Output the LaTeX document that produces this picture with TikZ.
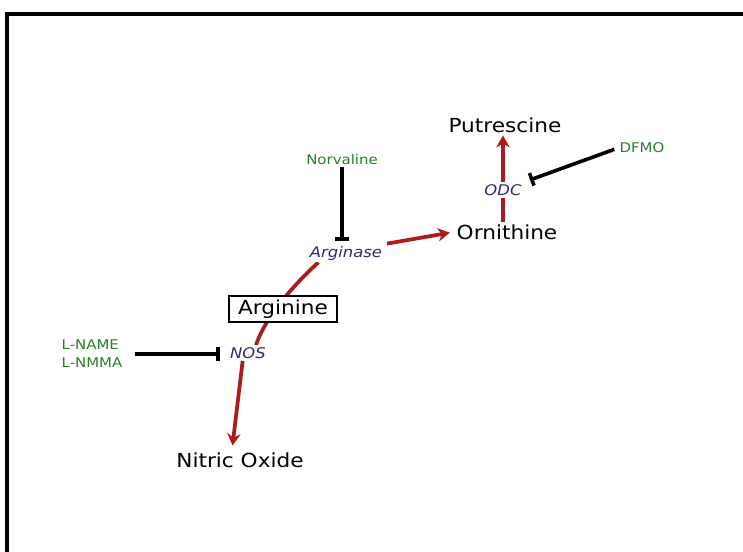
\documentclass[tikz,border=0pt]{standalone}
\usepackage{fontspec}
\setmainfont{DejaVu Sans}[FakeStretch=1.12]
\usetikzlibrary{arrows.meta,backgrounds}

\definecolor{rxnred}{RGB}{175,25,25}
\definecolor{drggreen}{RGB}{45,125,45}
\definecolor{enznavy}{RGB}{45,45,110}

\tikzset{
	compound/.style={font=\fontsize{14.5}{16}\selectfont, fill=white, inner sep=2pt},
	enzyme/.style={font=\fontsize{11}{13}\selectfont\itshape, text=enznavy, fill=white, inner sep=1.5pt},
	drug/.style={font=\fontsize{10}{13.5}\selectfont, text=drggreen, fill=white, inner sep=1pt},
	react/.style={rxnred, line width=2.8pt, -{Stealth[length=9pt,width=10pt]}},
	inhibit/.style={black, line width=2.7pt, -{Bar[width=10pt,line width=2.7pt]}},
}

\begin{document}
\begin{tikzpicture}[x=0.75pt,y=-0.75pt]
	\useasboundingbox (0,0) rectangle (743,552);
\draw[line width=2.4pt] (7,552) -- (7,14) -- (743,14);

% polyamine branch
\node[compound] (put) at (505,125) {Putrescine};
\node[compound] (orn) at (507,232) {Ornithine};
\node[enzyme] (odc) at (503,190) {ODC};
\node[drug] (dfmo) at (642,148) {DFMO};

% arginase branch
\node[drug] (norv) at (342,160) {Norvaline};
\node[enzyme] (arg-ase) at (346,253) {Arginase};
\node[compound, draw, line width=0.8pt, minimum width=81pt, minimum height=19.5pt] (arg) at (283,309) {Arginine};

% NOS branch
\node[enzyme] (nos) at (248,353) {NOS};
\node[drug, align=left] (lname) at (92,354) {L-NAME\\L-NMMA};
\node[compound] (no) at (240,460) {Nitric Oxide};

\draw[rxnred, line width=2.8pt] (odc.south |- orn.north) -- (odc.south);
\draw[react] (odc.north) -- (odc.north |- put.south);
\draw[react, shorten >=3pt] ([xshift=2pt]arg-ase.north east) -- (orn.west);
\begin{pgfonlayer}{background}
\draw[rxnred, line width=2.8pt] ([xshift=8pt]arg-ase.south west) .. controls (296,283) and (266,315) .. ([xshift=6pt]nos.north);
\end{pgfonlayer}
\draw[react, shorten >=3pt] ([xshift=-4pt]nos.south) -- ([xshift=-6pt]no.north);

\draw[inhibit, shorten >=2pt] (norv.south) -- (norv.south |- arg-ase.north);
\draw[inhibit, shorten <=3pt, shorten >=5pt] (dfmo.west) -- (odc.north east);
\draw[inhibit, shorten <=8pt, shorten >=6pt] (lname.east) -- (lname.east -| nos.west);
\end{tikzpicture}
\end{document}
